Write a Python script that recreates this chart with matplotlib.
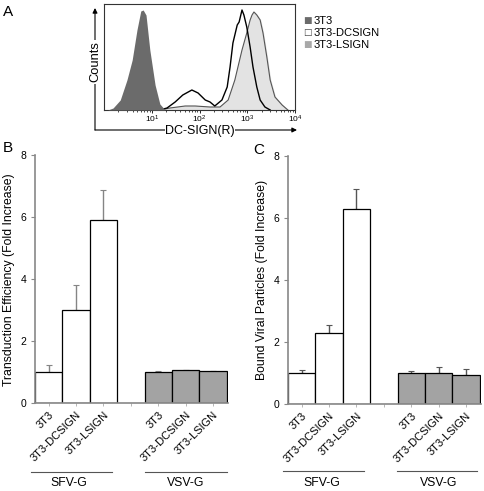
import numpy as np
import matplotlib
matplotlib.use('Agg')
import matplotlib.pyplot as plt
import matplotlib.transforms as mtransforms

plt.rcParams['font.family'] = ['Liberation Sans', 'DejaVu Sans']
plt.rcParams['mathtext.fontset'] = 'custom'
plt.rcParams['mathtext.rm'] = 'Liberation Sans'
plt.rcParams['mathtext.it'] = 'Liberation Sans:italic'
plt.rcParams['mathtext.bf'] = 'Liberation Sans:bold'

# panel A - flow histograms (log10 of intensity, % of max count)
log_3t3 = [0.08, 0.19, 0.34, 0.48, 0.59, 0.69, 0.77, 0.82, 0.88, 0.96, 1.07, 1.17, 1.28]
cnt_3t3 = [0, 2, 10, 30, 50, 80, 99, 100, 95, 60, 25, 6, 0]

log_dc = [1.17, 1.32, 1.49, 1.65, 1.84, 1.97, 2.12, 2.22, 2.32, 2.47, 2.58, 2.64, 2.70,
          2.79, 2.83, 2.89, 2.93, 2.99, 3.06, 3.12, 3.20, 3.27, 3.37, 3.48]
cnt_dc = [0, 2, 8, 15, 20, 17, 10, 8, 4, 10, 23, 43, 67,
          85, 88, 100, 95, 83, 63, 43, 23, 10, 3, 0]

log_ls = [1.17, 1.38, 1.70, 1.91, 2.22, 2.43, 2.60, 2.74, 2.89, 2.99, 3.06, 3.10, 3.14,
          3.20, 3.27, 3.33, 3.41, 3.48, 3.58, 3.73, 3.85]
cnt_ls = [0, 2, 4, 4, 3, 3, 10, 30, 60, 77, 90, 95, 98,
          95, 90, 77, 53, 30, 13, 5, 0]

hist_names = ['3T3', '3T3-DCSIGN', '3T3-LSIGN']

# panels B and C
cells = ['3T3', '3T3-DCSIGN', '3T3-LSIGN']
groups = ['SFV-G', 'VSV-G']

trans_sfv = [1.0, 3.0, 5.9]
trans_sfv_err = [0.23, 0.8, 0.98]
trans_vsv = [1.0, 1.05, 1.03]
trans_vsv_err = [0.02, 0.03, 0.01]

bound_sfv = [1.0, 2.28, 6.3]
bound_sfv_err = [0.1, 0.27, 0.63]
bound_vsv = [1.0, 1.0, 0.95]
bound_vsv_err = [0.06, 0.18, 0.17]

W, H = 484, 491


def fx(px):
    return px / W


def fy(py):
    return 1 - py / H


fig = plt.figure(figsize=(W / 100, H / 100), dpi=100)

# ---------------- panel A ----------------
axa = fig.add_axes([fx(104), fy(110), fx(295) - fx(104), fy(4) - fy(110)])
xd = 10 ** np.array(log_dc)
xl = 10 ** np.array(log_ls)
x3 = 10 ** np.array(log_3t3)
axa.fill_between(xd, cnt_dc, color='white', zorder=1)
axa.fill_between(xl, cnt_ls, color='#e3e3e3', zorder=2)
axa.plot(xl, cnt_ls, color='#555555', lw=0.8, zorder=3)
axa.plot(xd, cnt_dc, color='black', lw=1.0, zorder=4)
axa.fill_between(x3, cnt_3t3, color='#6b6b6b', lw=0, zorder=5)
axa.set_xscale('log')
axa.set_xlim(1, 1e4)
axa.set_ylim(0, 106)
axa.set_yticks([])
axa.set_xticks([10, 100, 1000, 10000])
axa.tick_params(axis='x', which='major', labelsize=6, length=2, width=0.6, pad=0.5)
axa.tick_params(axis='x', which='minor', length=1.5, width=0.5)
for s in axa.spines.values():
    s.set_linewidth(0.8)
    s.set_color('#333333')

# arrows around the histogram
axa.annotate('', xy=(fx(95), fy(8)), xytext=(fx(95), fy(130)),
             xycoords='figure fraction', textcoords='figure fraction',
             arrowprops=dict(arrowstyle='-|>', lw=0.8, color='black',
                             mutation_scale=7, shrinkA=0, shrinkB=0),
             annotation_clip=False)
axa.annotate('', xy=(fx(297), fy(130)), xytext=(fx(95), fy(130)),
             xycoords='figure fraction', textcoords='figure fraction',
             arrowprops=dict(arrowstyle='-|>', lw=0.8, color='black',
                             mutation_scale=7, shrinkA=0, shrinkB=0),
             annotation_clip=False)
fig.text(fx(95), fy(62), 'Counts', rotation=90, ha='center', va='center', fontsize=9.3,
         bbox=dict(facecolor='white', edgecolor='none', pad=1))
fig.text(fx(200), fy(131), 'DC-SIGN(R)', ha='center', va='center', fontsize=9,
         bbox=dict(facecolor='white', edgecolor='none', pad=0.3))

# legend for A
leg_colors = ['#6b6b6b', '#444444', '#a8a8a8']
for i, name in enumerate(hist_names):
    yy = fy(21 + 12 * i)
    fig.text(fx(303), yy, '\u25a1' if i == 1 else '\u25a0', ha='left', va='center',
             fontsize=6.5, color=leg_colors[i], family=['DejaVu Sans'])
    fig.text(fx(314), yy, name, ha='left', va='center', fontsize=8)

fig.text(fx(8), fy(12), 'A', ha='center', va='center', fontsize=11)


# ---------------- panels B and C ----------------
def bar_panel(left, right, bottom, top, sfv, sfv_err, vsv, vsv_err, ylabel,
              err_color, lines, text_x, line_y, text_y, ylab_x):
    ax = fig.add_axes([fx(left), fy(bottom), fx(right) - fx(left), fy(top) - fy(bottom)])
    pos_sfv = np.arange(len(sfv))
    pos_vsv = np.arange(len(vsv)) + len(sfv) + 1
    ax.bar(pos_sfv, sfv, width=1.0, color='white', edgecolor='black', lw=0.9, zorder=2)
    ax.bar(pos_vsv, vsv, width=1.0, color='#a3a3a3', edgecolor='black', lw=0.9, zorder=2)
    ax.errorbar(pos_sfv, sfv, yerr=[np.zeros(len(sfv)), sfv_err], fmt='none',
                ecolor=err_color, elinewidth=1.0, capsize=2, capthick=0.8, zorder=1)
    ax.errorbar(pos_vsv, vsv, yerr=[np.zeros(len(vsv)), vsv_err], fmt='none',
                ecolor=err_color, elinewidth=1.0, capsize=2, capthick=0.8, zorder=1)
    ax.set_xlim(-0.5, 6.55)
    ax.set_ylim(0, 8)
    ax.set_yticks([0, 2, 4, 6, 8])
    ax.set_xticks(np.arange(7))
    ax.set_xticklabels(cells + [''] + cells, rotation=45, ha='right', va='top',
                       rotation_mode='anchor', fontsize=8)
    ax.tick_params(axis='y', labelsize=7.5, length=3, width=0.8, color='#888888', pad=3)
    ax.tick_params(axis='x', length=2.5, width=0.6, color='#aaaaaa', pad=2)
    for s in ['top', 'right']:
        ax.spines[s].set_visible(False)
    for s in ['left', 'bottom']:
        ax.spines[s].set_color('#888888')
        ax.spines[s].set_linewidth(1.2)
    fig.text(fx(ylab_x), fy(280), ylabel, rotation=90, ha='center', va='center', fontsize=8.8)
    tr = mtransforms.blended_transform_factory(ax.transData, fig.transFigure)
    for (x0, x1), tx, g in zip(lines, text_x, groups):
        ax.plot([x0, x1], [fy(line_y), fy(line_y)], color='#555555', lw=0.8,
                transform=tr, clip_on=False)
        ax.text(tx, fy(text_y), g, transform=tr, ha='center', va='center', fontsize=8.8)
    return ax


bar_panel(35, 228, 403, 155, trans_sfv, trans_sfv_err, trans_vsv, trans_vsv_err,
          'Transduction Efficiency (Fold Increase)', '#858585',
          [(-0.65, 2.3), (3.5, 6.5)], [0.75, 5.0], 472, 483, 9)
bar_panel(288, 481, 404, 156, bound_sfv, bound_sfv_err, bound_vsv, bound_vsv_err,
          'Bound Viral Particles (Fold Increase)', '#555555',
          [(-0.68, 2.29), (3.49, 6.42)], [0.72, 5.0], 471, 483, 262)

fig.text(fx(8), fy(148), 'B', ha='center', va='center', fontsize=11)
fig.text(fx(259), fy(150), 'C', ha='center', va='center', fontsize=11)

fig.savefig('out.png', dpi=100)
